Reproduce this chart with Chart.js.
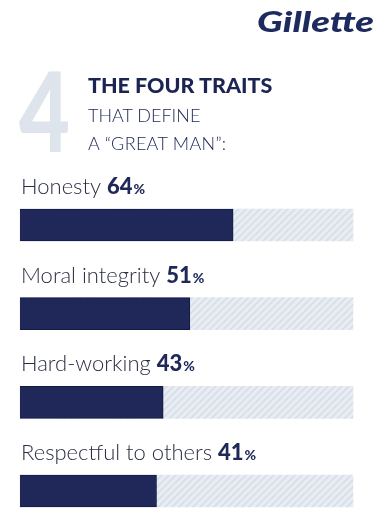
<!DOCTYPE html>
<html>
<head>
<meta charset="utf-8">
<script src="https://cdn.jsdelivr.net/npm/chart.js@4"></script>
<style>
  body { margin: 0; background: #fff; width: 386px; height: 519px; overflow: hidden; position: relative; font-family: Lato, sans-serif; }
  #chart { position: absolute; left: 0; top: 0; }
  .t { position: absolute; white-space: nowrap; line-height: 1; }
  #logo { left: 257px; top: 6px; font-size: 29px; font-weight: 900; font-style: italic; color: #1d2a5f; transform: scaleX(1.32); transform-origin: left top; }
  #big4 { left: 19px; top: 54px; font-size: 110px; font-weight: 900; color: #dde4ec; transform: scaleX(0.8); transform-origin: left top; }
  #t1 { left: 88px; top: 75px; font-size: 21.5px; font-weight: 900; color: #1c2454; }
  #t2 { left: 88px; top: 106px; font-size: 18px; font-weight: 300; color: #1c2454; }
  #t3 { left: 88px; top: 134px; font-size: 18px; font-weight: 300; color: #1c2454; letter-spacing: 0.3px; }
</style>
</head>
<body>
<canvas id="chart" width="386" height="519"></canvas>
<div class="t" id="logo">Gillette</div>
<div class="t" id="big4">4</div>
<div class="t" id="t1">THE FOUR TRAITS</div>
<div class="t" id="t2">THAT DEFINE</div>
<div class="t" id="t3">A “GREAT MAN”:</div>
<script>
// data
var traits = ['Honesty', 'Moral integrity', 'Hard-working', 'Respectful to others'];
var percents = [64, 51, 43, 41];
var trackValues = [100, 100, 100, 100];

var navy = '#1f2858';

// hatched pattern for the empty part of the bar
function makeHatch() {
    var c = document.createElement('canvas');
    c.width = 7; c.height = 7;
    var g = c.getContext('2d');
    g.fillStyle = '#e8edf3';
    g.fillRect(0, 0, 7, 7);
    g.strokeStyle = '#d7dee8';
    g.lineWidth = 1.6;
    g.beginPath();
    g.moveTo(-1, 8); g.lineTo(8, -1);
    g.moveTo(-4, 4); g.lineTo(4, -4);
    g.moveTo(3, 11); g.lineTo(11, 3);
    g.stroke();
    return g.createPattern(c, 'repeat');
}

var labelPlugin = {
    id: 'traitLabels',
    afterDatasetsDraw: function (chart) {
        var ctx = chart.ctx;
        var meta = chart.getDatasetMeta(0);
        var left = chart.chartArea.left;
        ctx.save();
        ctx.textBaseline = 'alphabetic';
        meta.data.forEach(function (bar, i) {
            var y = bar.y - bar.height / 2 - 15;
            var x = left + 1;
            ctx.font = '300 22px Lato';
            ctx.fillStyle = '#2b2e42';
            var name = traits[i] + ' ';
            ctx.fillText(name, x, y);
            x += ctx.measureText(name).width;
            ctx.font = '900 22px Lato';
            ctx.fillStyle = navy;
            var num = String(percents[i]);
            ctx.fillText(num, x, y);
            x += ctx.measureText(num).width + 1;
            ctx.font = '900 14px Lato';
            ctx.fillText('%', x, y);
        });
        ctx.restore();
    }
};

var ctx = document.getElementById('chart');
var chart = new Chart(ctx, {
    type: 'bar',
    data: {
        labels: traits,
        datasets: [
            {
                data: percents,
                backgroundColor: navy,
                borderColor: '#131a44',
                borderWidth: 1,
                barThickness: 32
            },
            {
                data: trackValues,
                backgroundColor: makeHatch(),
                borderWidth: 0,
                barThickness: 32
            }
        ]
    },
    options: {
        indexAxis: 'y',
        responsive: false,
        animation: false,
        datasets: { bar: { grouped: false, clip: false } },
        layout: { padding: { left: 20, right: 33, top: 225, bottom: 28 } },
        scales: {
            x: { min: 0, max: 100, display: false },
            y: { display: false, offset: false }
        },
        plugins: {
            legend: { display: false },
            tooltip: { enabled: false }
        }
    },
    plugins: [labelPlugin]
});
</script>
</body>
</html>
